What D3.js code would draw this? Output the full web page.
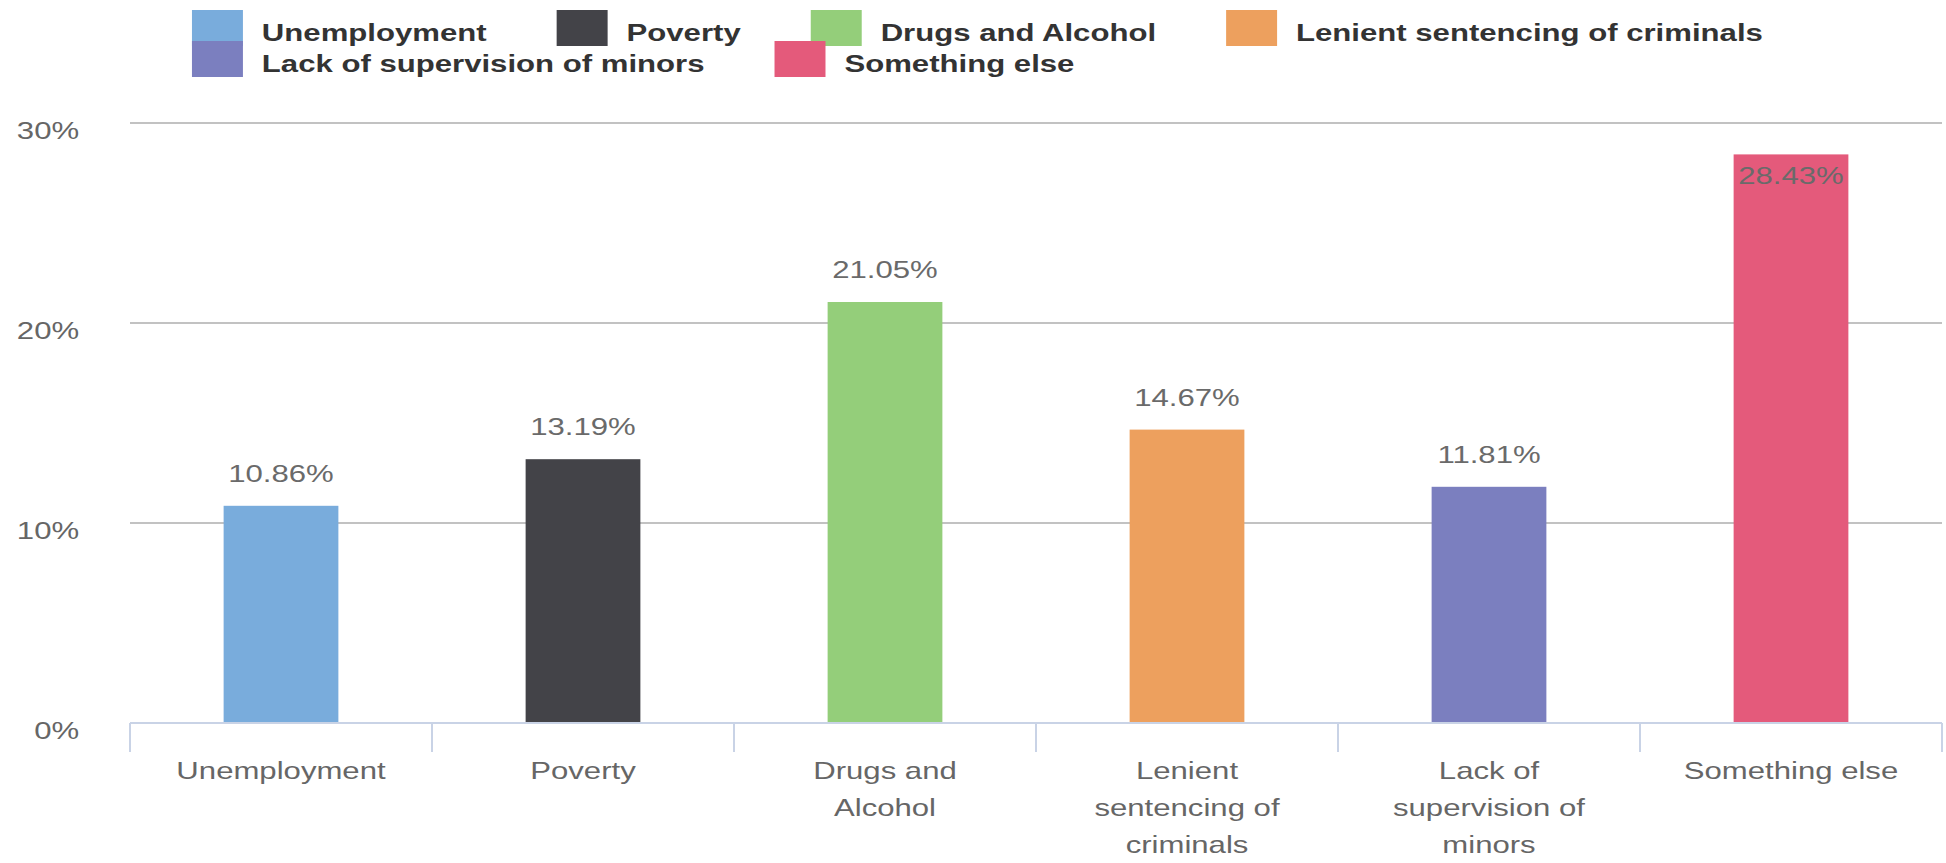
<!DOCTYPE html>
<html>
<head>
<meta charset="utf-8">
<script src="https://cdn.jsdelivr.net/npm/d3@7"></script>
<style>
    html, body { margin: 0; padding: 0; background: #ffffff; }
    svg { display: block; font-family: "Liberation Sans", Arial, Helvetica, sans-serif; }
</style>
</head>
<body>
<div id="chart"></div>
<script>
var categories = ["Unemployment", "Poverty", "Drugs and Alcohol", "Lenient sentencing of criminals",
    "Lack of supervision of minors", "Something else"];
var values = [10.86, 13.19, 21.05, 14.67, 11.81, 28.43];
var yTicks = [0, 10, 20, 30];
var barColors = ["#79acdc", "#434348", "#94ce7a", "#eda05e", "#7b7fbf", "#e45a7b"];

var ch = ch || {};

ch.init = function () {
    // the reference is stretched sideways, so draw on a narrower box and let the viewBox widen it
    const width = 1946, height = 863;
    const stretch = 1.297;
    const vw = width / stretch;

    const plot = { left: 130 / stretch, right: 1942 / stretch, top: 123, bottom: 723 };

    const svg = d3.select("#chart")
        .append("svg")
        .attr("width", width)
        .attr("height", height)
        .attr("viewBox", "0 0 " + vw + " " + height)
        .attr("preserveAspectRatio", "none");

    const x = d3.scaleBand()
        .domain(categories)
        .range([plot.left, plot.right])
        .paddingInner(0.62)
        .paddingOuter(0.31);

    const y = d3.scaleLinear()
        .domain([0, 30])
        .range([plot.bottom, plot.top]);

    // grid lines + y labels
    svg.append("g")
        .selectAll("line")
        .data(yTicks.filter((d) => d > 0))
        .enter()
        .append("line")
        .attr("x1", plot.left)
        .attr("x2", plot.right)
        .attr("y1", (d) => y(d))
        .attr("y2", (d) => y(d))
        .attr("stroke", "#c2c2c2")
        .attr("stroke-width", 2)
        .attr("vector-effect", "non-scaling-stroke");

    svg.append("g")
        .selectAll("text")
        .data(yTicks)
        .enter()
        .append("text")
        .attr("x", 61)
        .attr("y", (d) => y(d) + 16)
        .attr("text-anchor", "end")
        .attr("font-size", 24)
        .attr("fill", "#666666")
        .text((d) => d + "%");

    // bars
    svg.append("g")
        .selectAll("rect")
        .data(values)
        .enter()
        .append("rect")
        .attr("x", (d, i) => x(categories[i]))
        .attr("y", (d) => y(d))
        .attr("width", x.bandwidth())
        .attr("height", (d) => y(0) - y(d))
        .attr("fill", (d, i) => barColors[i]);

    // x axis line and ticks on the category borders
    const step = x.step();
    const borders = d3.range(categories.length + 1).map((i) => plot.left + i * step);

    svg.append("line")
        .attr("x1", plot.left)
        .attr("x2", plot.right)
        .attr("y1", plot.bottom)
        .attr("y2", plot.bottom)
        .attr("stroke", "#c9d3e6")
        .attr("stroke-width", 2)
        .attr("vector-effect", "non-scaling-stroke");

    svg.append("g")
        .selectAll("line")
        .data(borders)
        .enter()
        .append("line")
        .attr("x1", (d) => d)
        .attr("x2", (d) => d)
        .attr("y1", plot.bottom)
        .attr("y2", plot.bottom + 29)
        .attr("stroke", "#c9d3e6")
        .attr("stroke-width", 2)
        .attr("vector-effect", "non-scaling-stroke");

    // value labels, pushed inside the bar when there is no room above
    svg.append("g")
        .selectAll("text")
        .data(values)
        .enter()
        .append("text")
        .attr("x", (d, i) => x(categories[i]) + x.bandwidth() / 2)
        .attr("y", function (d) {
            const top = y(d);
            return (top - 25 - 18 < plot.top) ? top + 30 : top - 24;
        })
        .attr("text-anchor", "middle")
        .attr("font-size", 24)
        .attr("fill", "#6a6a6a")
        .text((d) => d.toFixed(2) + "%");

    // category labels, wrapped to fit the band
    const catG = svg.append("g")
        .attr("font-size", 24)
        .attr("fill", "#666666")
        .attr("text-anchor", "middle");

    categories.forEach(function (name, i) {
        const t = catG.append("text")
            .attr("x", x(name) + x.bandwidth() / 2)
            .attr("y", 779);
        ch.wrap(t, name, 182, 37);
    });

    ch.drawLegend(svg);
};

ch.wrap = function (textSel, str, maxWidth, lineHeight) {
    const words = str.split(" ");
    let line = [];
    const cx = textSel.attr("x");
    let tspan = textSel.append("tspan").attr("x", cx).attr("dy", 0);
    words.forEach(function (w) {
        line.push(w);
        tspan.text(line.join(" "));
        if (tspan.node().getComputedTextLength() > maxWidth && line.length > 1) {
            line.pop();
            tspan.text(line.join(" "));
            line = [w];
            tspan = textSel.append("tspan").attr("x", cx).attr("dy", lineHeight).text(w);
        }
    });
};

ch.drawLegend = function (svg) {
    const startX = 148;
    const maxRight = 1420;
    const swatchW = 39.3, swatchH = 36;
    const textGap = 14.6, itemGap = 54;
    const rowBase = [41, 72];

    const legend = svg.append("g");
    let row = 0;
    let cx = startX;

    categories.forEach(function (name, i) {
        const item = legend.append("g");
        const label = item.append("text")
            .attr("font-size", 24)
            .attr("font-weight", "bold")
            .attr("fill", "#333333")
            .text(name);
        const tw = label.node().getComputedTextLength();
        const itemW = swatchW + textGap + tw;
        if (cx + itemW > maxRight && cx > startX) {
            row++;
            cx = startX;
        }
        const base = rowBase[row] !== undefined ? rowBase[row] : rowBase[0] + row * 31;
        item.insert("rect", "text")
            .attr("x", cx)
            .attr("y", base - 31)
            .attr("width", swatchW)
            .attr("height", swatchH)
            .attr("fill", barColors[i]);
        label.attr("x", cx + swatchW + textGap).attr("y", base);
        cx += itemW + itemGap;
    });
};

ch.init();
</script>
</body>
</html>
